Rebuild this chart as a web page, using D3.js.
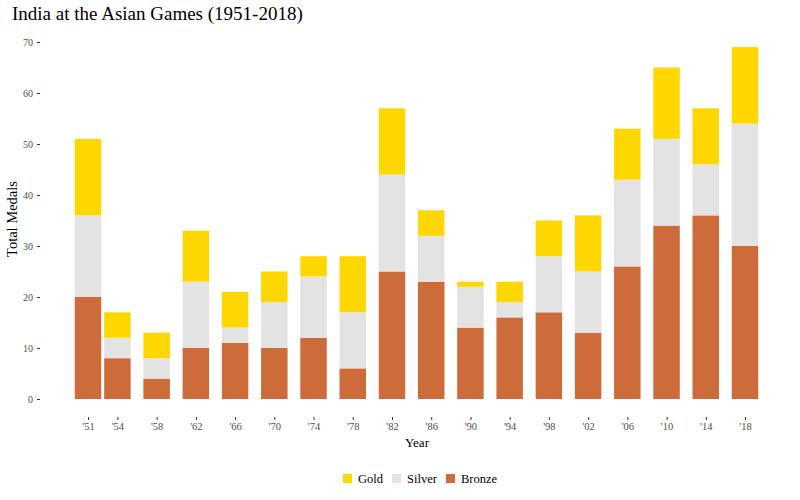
<!DOCTYPE html>
<html><head><meta charset="utf-8">
<script src="https://cdn.jsdelivr.net/npm/d3@7"></script>
<style>body{margin:0;background:#fff}svg{display:block}text{font-family:"Liberation Serif","DejaVu Serif",serif}</style>
</head><body><svg id="c" width="800" height="500"></svg>
<script>
const years = [1951,1954,1958,1962,1966,1970,1974,1978,1982,1986,1990,1994,1998,2002,2006,2010,2014,2018];
const gold = [15,5,5,10,7,6,4,11,13,5,1,4,7,11,10,14,11,15];
const silver = [16,4,4,13,3,9,12,11,19,9,8,3,11,12,17,17,10,24];
const bronze = [20,8,4,10,11,10,12,6,25,23,14,16,17,13,26,34,36,30];
const medals = ["Bronze","Silver","Gold"];
const colors = {Gold:"#ffd700",Silver:"#e3e3e3",Bronze:"#cd6b3a"};
const legendOrder = ["Gold","Silver","Bronze"];
const yTicks = [0,10,20,30,40,50,60,70];

const svg = d3.select("#c");
const x = d3.scaleLinear().domain([1951,2018]).range([88,745]);
const y = d3.scaleLinear().domain([0,70]).range([399,42]);
const barW = 2.7;

const rows = years.map((yr,i)=>({year:yr,Bronze:bronze[i],Silver:silver[i],Gold:gold[i]}));
const stack = d3.stack().keys(medals)(rows);

svg.append("g").selectAll("g").data(stack).join("g")
  .attr("fill",d=>colors[d.key])
  .selectAll("rect").data(d=>d).join("rect")
  .attr("x",d=>x(d.data.year-barW/2))
  .attr("width",d=>x(d.data.year+barW/2)-x(d.data.year-barW/2))
  .attr("y",d=>y(d[1]))
  .attr("height",d=>y(d[0])-y(d[1]));

// y axis
const ya = svg.append("g").attr("transform","translate(40,0)")
  .call(d3.axisLeft(y).tickValues(yTicks).tickSize(3).tickPadding(4));
ya.select(".domain").remove();
ya.selectAll("line").attr("stroke","#333");
ya.selectAll("text").attr("fill","#4d4d4d").style("font-size","10px");

// x axis
const xa = svg.append("g").attr("transform","translate(0,417)")
  .call(d3.axisBottom(x).tickValues(years).tickSize(3).tickPadding(3)
    .tickFormat(d=>"'"+String(d).slice(2)));
xa.select(".domain").remove();
xa.selectAll("line").attr("stroke","#333");
xa.selectAll("text").attr("fill","#4d4d4d").style("font-size","10.5px");

svg.append("text").attr("x",417).attr("y",447).attr("text-anchor","middle")
  .style("font-size","13px").attr("fill","#000").text("Year");
svg.append("text").attr("transform","translate(17,219) rotate(-90)").attr("text-anchor","middle")
  .style("font-size","14.5px").attr("fill","#000").text("Total Medals");
svg.append("text").attr("x",12).attr("y",20).style("font-size","19px").attr("fill","#000")
  .text("India at the Asian Games (1951-2018)");

// legend
const lx = [343,392,446];
const lg = svg.append("g");
legendOrder.forEach((k,i)=>{
  lg.append("rect").attr("x",lx[i]).attr("y",474).attr("width",9).attr("height",9).attr("fill",colors[k]);
  lg.append("text").attr("x",lx[i]+15).attr("y",483).style("font-size","12.5px").attr("fill","#000").text(k);
});
</script></body></html>
